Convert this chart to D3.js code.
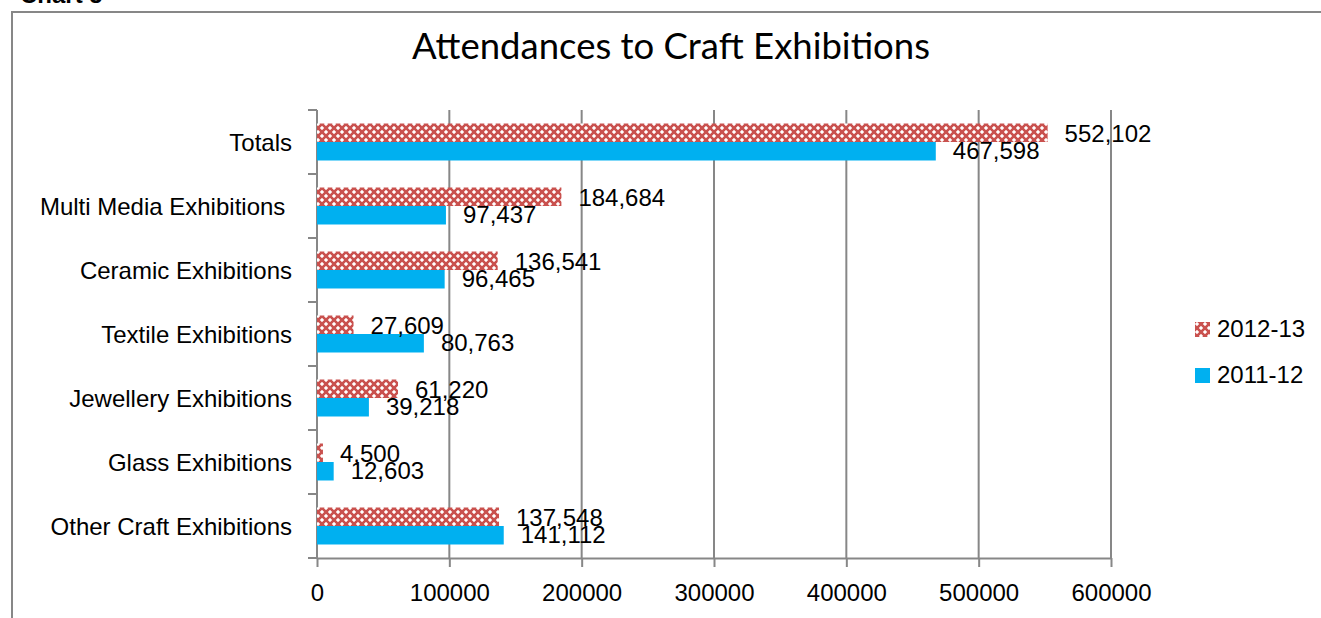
<!DOCTYPE html>
<html>
<head>
<meta charset="utf-8">
<script src="https://cdn.jsdelivr.net/npm/d3@7"></script>
<style>
  html, body { margin: 0; padding: 0; background: #fff; }
  svg { display: block; }
  text { font-family: "Liberation Sans", Arial, sans-serif; fill: #000; }
</style>
</head>
<body>
<svg id="chart" width="1321" height="618"></svg>
<script>
// Attendance data by exhibition type
const categories = [
  "Totals",
  "Multi Media Exhibitions ",
  "Ceramic Exhibitions",
  "Textile Exhibitions",
  "Jewellery Exhibitions",
  "Glass Exhibitions",
  "Other Craft Exhibitions"
];
const seriesNames = ["2012-13", "2011-12"];
const values2012_13 = [552102, 184684, 136541, 27609, 61220, 4500, 137548];
const values2011_12 = [467598, 97437, 96465, 80763, 39218, 12603, 141112];
const xTicks = [0, 100000, 200000, 300000, 400000, 500000, 600000];

const svg = d3.select("#chart");
const grey = "#878787";
const blue = "#00B0F0";

// Hatched fill for the 2012-13 series
const defs = svg.append("defs");
const pat = defs.append("pattern")
  .attr("id", "confetti")
  .attr("patternUnits", "userSpaceOnUse")
  .attr("width", 8).attr("height", 8);
pat.append("rect").attr("width", 8).attr("height", 8).attr("fill", "#c9514e");
[[2, 2], [6, 6], [-2, 6], [6, -2], [-2, -2], [2, 10], [10, 2], [10, 10]].forEach(([cx, cy]) => {
  pat.append("rect").attr("x", cx - 2).attr("y", cy - 1).attr("width", 4).attr("height", 2)
    .attr("fill", "#efc4c3").attr("shape-rendering", "crispEdges");
  pat.append("rect").attr("x", cx - 1).attr("y", cy - 2).attr("width", 2).attr("height", 4)
    .attr("fill", "#efc4c3").attr("shape-rendering", "crispEdges");
  pat.append("rect").attr("x", cx - 1).attr("y", cy - 1).attr("width", 2).attr("height", 2)
    .attr("fill", "#ffffff").attr("shape-rendering", "crispEdges");
});

const fills = { "2012-13": "url(#confetti)", "2011-12": blue };
const legendFills = { "2012-13": "url(#confetti)", "2011-12": blue };

// Outer frame (top and left edges visible)
svg.append("line").attr("x1", 12).attr("x2", 1321).attr("y1", 12).attr("y2", 12)
  .attr("stroke", grey).attr("stroke-width", 2);
svg.append("line").attr("x1", 12).attr("x2", 12).attr("y1", 11).attr("y2", 618)
  .attr("stroke", grey).attr("stroke-width", 2);

// Caption above the frame
svg.append("text").attr("x", 20).attr("y", 2.5)
  .style("font-weight", "bold").style("font-size", "24px").text("Chart 5");

// Title
svg.append("text")
  .attr("x", 671).attr("y", 59)
  .attr("text-anchor", "middle")
  .attr("textLength", 518).attr("lengthAdjust", "spacingAndGlyphs")
  .style("font-family", "Lato, 'DejaVu Sans', sans-serif")
  .style("font-size", "36px")
  .text("Attendances to Craft Exhibitions");

// Scales
const x = d3.scaleLinear().domain([0, 600000]).range([317, 1111]);
const y = d3.scaleBand().domain(categories).range([110, 558]).padding(0);
const ySub = d3.scaleBand().domain(seriesNames).range([0, y.bandwidth()])
  .paddingInner(0).paddingOuter(0.73);

// Vertical gridlines
svg.append("g").selectAll("line")
  .data(xTicks.slice(1))
  .join("line")
  .attr("x1", d => x(d)).attr("x2", d => x(d))
  .attr("y1", 110).attr("y2", 558)
  .attr("stroke", grey).attr("stroke-width", 2);

// X axis
const xAxis = svg.append("g")
  .attr("transform", "translate(0,558)")
  .call(d3.axisBottom(x).tickValues(xTicks).tickFormat(d3.format("d")).tickSizeInner(9).tickSizeOuter(0).tickPadding(17));
xAxis.select(".domain").attr("stroke", grey).attr("stroke-width", 2);
xAxis.selectAll(".tick line").attr("stroke", grey).attr("stroke-width", 2);
xAxis.selectAll(".tick text")
  .style("font-family", "'Liberation Sans', Arial, sans-serif")
  .style("font-size", "24px").attr("fill", "#000");

// Y axis: ticks sit on category boundaries
const yEdges = categories.map(c => y(c)).concat([558]);
const yAxis = svg.append("g");
yAxis.append("line").attr("x1", 317).attr("x2", 317).attr("y1", 110).attr("y2", 559)
  .attr("stroke", grey).attr("stroke-width", 2);
yAxis.selectAll("line.tk").data(yEdges).join("line").attr("class", "tk")
  .attr("x1", 308).attr("x2", 317).attr("y1", d => d).attr("y2", d => d)
  .attr("stroke", grey).attr("stroke-width", 2);
yAxis.selectAll("text").data(categories).join("text")
  .attr("x", 292)
  .attr("y", d => y(d) + y.bandwidth() / 2 + 8.6)
  .attr("text-anchor", "end")
  .style("font-size", "24px")
  .style("white-space", "pre")
  .text(d => d);

// Bars
const rows = categories.map((c, i) => ({
  category: c,
  items: [
    { series: "2012-13", value: values2012_13[i] },
    { series: "2011-12", value: values2011_12[i] }
  ]
}));

const fmt = d3.format(",");
const groups = svg.append("g").selectAll("g")
  .data(rows).join("g")
  .attr("transform", d => `translate(0,${y(d.category)})`);

groups.selectAll("rect")
  .data(d => d.items).join("rect")
  .attr("x", x(0))
  .attr("y", d => ySub(d.series))
  .attr("width", d => x(d.value) - x(0))
  .attr("height", ySub.bandwidth())
  .attr("fill", d => fills[d.series]);

groups.selectAll("text")
  .data(d => d.items).join("text")
  .attr("x", d => x(d.value) + 17)
  .attr("y", d => ySub(d.series) + ySub.bandwidth() / 2 + (d.series === "2012-13" ? 9 : 8))
  .style("font-size", "24px")
  .text(d => fmt(d.value));

// Legend
const legend = svg.append("g").selectAll("g")
  .data(seriesNames).join("g")
  .attr("transform", (d, i) => `translate(1195,${322 + i * 46})`);
legend.append("rect").attr("width", 15).attr("height", 15)
  .attr("fill", d => legendFills[d]);
legend.append("text").attr("x", 22).attr("y", 15)
  .style("font-size", "24px").text(d => d);
</script>
</body>
</html>
